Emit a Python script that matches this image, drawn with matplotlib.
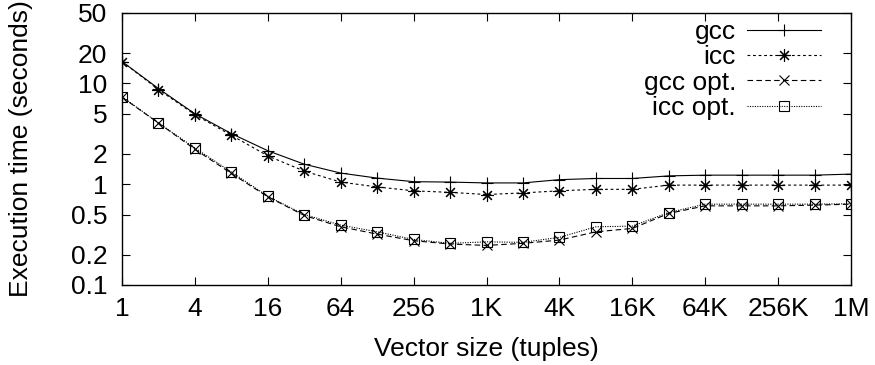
import numpy as np
import matplotlib
matplotlib.use("Agg")
import matplotlib.pyplot as plt
from matplotlib.ticker import FixedLocator, FixedFormatter, NullLocator

plt.rcParams["font.family"] = ["Liberation Sans", "DejaVu Sans"]

# vector sizes: 2^0 .. 2^20
sizes = [2 ** k for k in range(21)]

gcc = [16.5, 8.9, 5.0, 3.18, 2.15, 1.58, 1.29, 1.15, 1.06, 1.05, 1.03,
       1.03, 1.11, 1.14, 1.14, 1.21, 1.23, 1.23, 1.23, 1.23, 1.26]
icc = [16.5, 8.7, 4.9, 3.06, 1.91, 1.35, 1.05, 0.94, 0.86, 0.83, 0.79,
       0.82, 0.86, 0.89, 0.89, 0.98, 0.98, 0.98, 0.98, 0.98, 0.98]
gcc_opt = [7.3, 4.05, 2.22, 1.28, 0.75, 0.49, 0.378, 0.32, 0.275, 0.255, 0.247,
           0.259, 0.279, 0.337, 0.364, 0.513, 0.61, 0.61, 0.61, 0.62, 0.634]
icc_opt = [7.4, 4.05, 2.29, 1.32, 0.76, 0.50, 0.393, 0.337, 0.283, 0.259, 0.268,
           0.265, 0.297, 0.378, 0.384, 0.524, 0.634, 0.634, 0.634, 0.634, 0.64]

xtick_vals = [4 ** k for k in range(11)]
xtick_labels = ["1", "4", "16", "64", "256", "1K", "4K", "16K", "64K", "256K", "1M"]
ytick_vals = [0.1, 0.2, 0.5, 1, 2, 5, 10, 20, 50]
ytick_labels = ["0.1", "0.2", "0.5", "1", "2", "5", "10", "20", "50"]

fs = 19
fig = plt.figure(figsize=(8.75, 3.65), dpi=100)
ax = fig.add_axes([122 / 875, 1 - 285 / 365, (851 - 122) / 875, (285 - 13) / 365])

lw = 0.8
ax.plot(sizes, gcc, color="black", lw=lw, ls="-", marker="+", ms=9, mew=0.8, label="gcc")
ax.plot(sizes, icc, color="black", lw=lw, ls=(0, (2.5, 2.5)), marker=(8, 2, 0), ms=9,
        mew=0.8, label="icc")
ax.plot(sizes, gcc_opt, color="black", lw=lw, ls=(0, (5, 3)), marker="x", ms=7,
        mew=0.8, label="gcc opt.")
ax.plot(sizes, icc_opt, color="black", lw=lw, ls=(0, (1, 1.2)), marker="s", ms=7.5,
        mew=0.8, mfc="none", label="icc opt.")

ax.set_xscale("log", base=2)
ax.set_yscale("log")
ax.set_xlim(1, 2 ** 20)
ax.set_ylim(0.1, 50)

ax.xaxis.set_major_locator(FixedLocator(xtick_vals))
ax.xaxis.set_major_formatter(FixedFormatter(xtick_labels))
ax.xaxis.set_minor_locator(NullLocator())
ax.yaxis.set_major_locator(FixedLocator(ytick_vals))
ax.yaxis.set_major_formatter(FixedFormatter(ytick_labels))
ax.yaxis.set_minor_locator(NullLocator())

ax.tick_params(which="both", direction="in", top=True, right=True, length=6,
               width=0.8, labelsize=fs)
ax.tick_params(axis="y", pad=10.5)
ax.tick_params(axis="x", pad=9)
for s in ax.spines.values():
    s.set_linewidth(1.0)

ax.set_xlabel("Vector size (tuples)", fontsize=fs)
ax.set_ylabel("Execution time (seconds)", fontsize=fs)
ax.xaxis.set_label_coords(0.5, -(337 - 285) / 272)
ax.yaxis.set_label_coords(-(122 - 33) / 729, 0.5)

ax.legend(loc="upper right", frameon=False, markerfirst=False, fontsize=fs,
          handlelength=2.8, handletextpad=0.42, labelspacing=0.05,
          borderpad=0, borderaxespad=0,
          bbox_to_anchor=((821 - 122) / 729, (285 - 20) / 272))

fig.savefig("out.png", dpi=100)
